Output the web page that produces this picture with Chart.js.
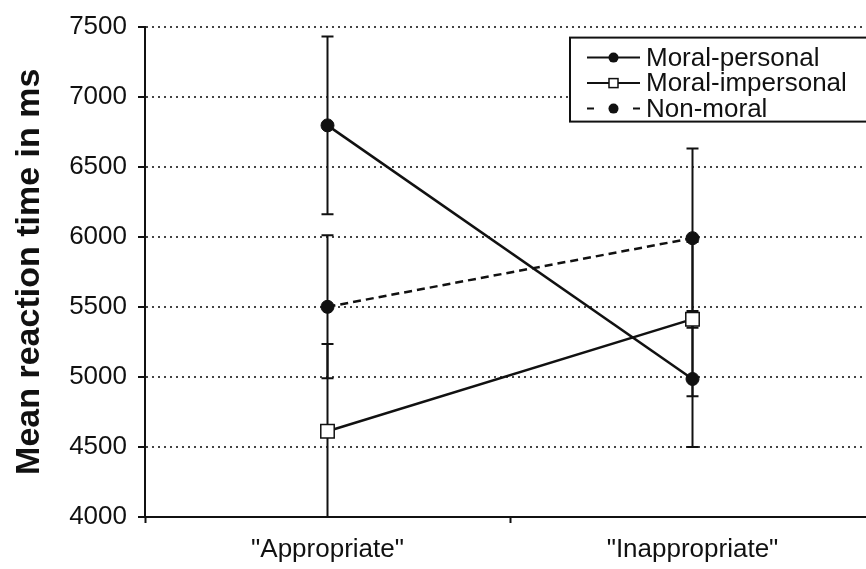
<!DOCTYPE html>
<html>
<head>
<meta charset="utf-8">
<title>Mean reaction time</title>
<script src="https://cdn.jsdelivr.net/npm/chart.js@4.4.1/dist/chart.umd.min.js"></script>
<style>
  html, body { margin: 0; padding: 0; background: #fff; overflow: hidden; }
  #wrap { width: 886px; height: 569px; }
</style>
</head>
<body>
<div id="wrap"><canvas id="c" width="886" height="569"></canvas></div>
<script>
// Judgement categories
const categories = ['"Appropriate"', '"Inappropriate"'];

// Mean reaction times (ms) per dilemma type, with error-bar half widths
const moralPersonal = [6795, 4985];
const moralPersonalErr = [635, 485];

const moralImpersonal = [4612, 5412];
const moralImpersonalErr = [622, 550];

const nonMoral = [5500, 5990];
const nonMoralErr = [510, 640];

// Y axis range and step
const yMin = 4000;
const yMax = 7500;
const yStep = 500;

const FONT = '"Liberation Sans", Arial, Helvetica, sans-serif';
const INK = '#111';

const errorSets = [moralPersonalErr, moralImpersonalErr, nonMoralErr];

// Vertical error bars with caps, drawn beneath the lines and markers
const errorBars = {
  id: 'errorBars',
  beforeDatasetsDraw(chart) {
    const { ctx, chartArea, scales: { x, y } } = chart;
    ctx.save();
    ctx.beginPath();
    ctx.rect(chartArea.left, chartArea.top - 2, chartArea.right - chartArea.left, chartArea.bottom - chartArea.top + 2);
    ctx.clip();
    ctx.strokeStyle = INK;
    ctx.lineWidth = 2;
    chart.data.datasets.forEach((ds, di) => {
      const errs = errorSets[di];
      ds.data.forEach((v, i) => {
        const px = x.getPixelForValue(i);
        const top = y.getPixelForValue(v + errs[i]);
        const bot = y.getPixelForValue(v - errs[i]);
        ctx.beginPath();
        ctx.moveTo(px, top); ctx.lineTo(px, bot);
        ctx.moveTo(px - 6, top); ctx.lineTo(px + 6, top);
        ctx.moveTo(px - 6, bot); ctx.lineTo(px + 6, bot);
        ctx.stroke();
      });
    });
    ctx.restore();
  }
};

// Boxed legend in the upper right corner of the plot
const boxLegend = {
  id: 'boxLegend',
  afterDraw(chart) {
    const { ctx, chartArea } = chart;
    const bx = chartArea.right - 305;
    const by = chartArea.top + 11;
    ctx.save();
    ctx.fillStyle = '#fff';
    ctx.strokeStyle = INK;
    ctx.lineWidth = 2;
    ctx.fillRect(bx, by, 330, 84);
    ctx.strokeRect(bx, by, 330, 84);
    ctx.font = '26px ' + FONT;
    ctx.textBaseline = 'middle';
    ctx.fillStyle = INK;
    chart.data.datasets.forEach((ds, i) => {
      const cy = by + 20 + i * 25.5;
      const x0 = bx + 17, x1 = bx + 70, cx = (x0 + x1) / 2;
      ctx.strokeStyle = INK;
      ctx.lineWidth = 2;
      ctx.beginPath();
      if (ds.borderDash && ds.borderDash.length) {
        ctx.moveTo(x0, cy); ctx.lineTo(x0 + 7, cy);
        ctx.moveTo(x1 - 7, cy); ctx.lineTo(x1, cy);
      } else {
        ctx.moveTo(x0, cy); ctx.lineTo(x1, cy);
      }
      ctx.stroke();
      if (ds.pointStyle === 'rect') {
        ctx.fillStyle = '#fff';
        ctx.fillRect(cx - 4.5, cy - 4.5, 9, 9);
        ctx.lineWidth = 1.5;
        ctx.strokeRect(cx - 4.5, cy - 4.5, 9, 9);
      } else {
        ctx.fillStyle = INK;
        ctx.beginPath();
        ctx.arc(cx, cy, 5, 0, Math.PI * 2);
        ctx.fill();
      }
      ctx.fillStyle = INK;
      ctx.fillText(ds.label, x1 + 6, cy + 1);
    });
    ctx.restore();
  }
};

new Chart(document.getElementById('c'), {
  type: 'line',
  data: {
    labels: categories,
    datasets: [
      {
        label: 'Moral-personal',
        data: moralPersonal,
        borderColor: INK, borderWidth: 2.5,
        pointStyle: 'circle', pointRadius: 6.5,
        pointBackgroundColor: INK, pointBorderColor: INK, pointBorderWidth: 1
      },
      {
        label: 'Moral-impersonal',
        data: moralImpersonal,
        borderColor: INK, borderWidth: 2.5,
        pointStyle: 'rect', pointRadius: 9.5,
        pointBackgroundColor: '#fff', pointBorderColor: INK, pointBorderWidth: 1.5
      },
      {
        label: 'Non-moral',
        data: nonMoral,
        borderColor: INK, borderWidth: 2.5, borderDash: [8, 5],
        pointStyle: 'circle', pointRadius: 6.5,
        pointBackgroundColor: INK, pointBorderColor: INK, pointBorderWidth: 1
      }
    ]
  },
  options: {
    responsive: false,
    animation: false,
    layout: { padding: { top: 20, right: 1, bottom: 0, left: 0 } },
    plugins: { legend: { display: false }, tooltip: { enabled: false } },
    elements: { line: { tension: 0 } },
    scales: {
      x: {
        type: 'category',
        offset: true,
        afterFit(scale) { scale.height = 52; },
        grid: {
          offset: true, drawOnChartArea: false, drawTicks: true,
          tickLength: 6, tickWidth: 2, tickColor: INK
        },
        border: { display: true, color: INK, width: 2 },
        ticks: { color: INK, font: { family: FONT, size: 26 }, padding: 11, maxRotation: 0 }
      },
      y: {
        min: yMin, max: yMax,
        afterFit(scale) { scale.width = 145; },
        grid: {
          color: '#444', lineWidth: 2,
          drawTicks: true, tickLength: 7, tickWidth: 2, tickColor: INK, tickBorderDash: []
        },
        border: { display: true, color: INK, width: 2, dash: [2, 4] },
        ticks: {
          stepSize: yStep, color: INK, padding: 11,
          font: { family: FONT, size: 26 },
          callback: (v) => String(v)
        },
        title: {
          display: true,
          text: 'Mean reaction time in ms',
          color: INK,
          font: { family: FONT, size: 34, weight: 'bold' },
          padding: { top: 9, bottom: 0 }
        }
      }
    }
  },
  plugins: [errorBars, boxLegend]
});
</script>
</body>
</html>
